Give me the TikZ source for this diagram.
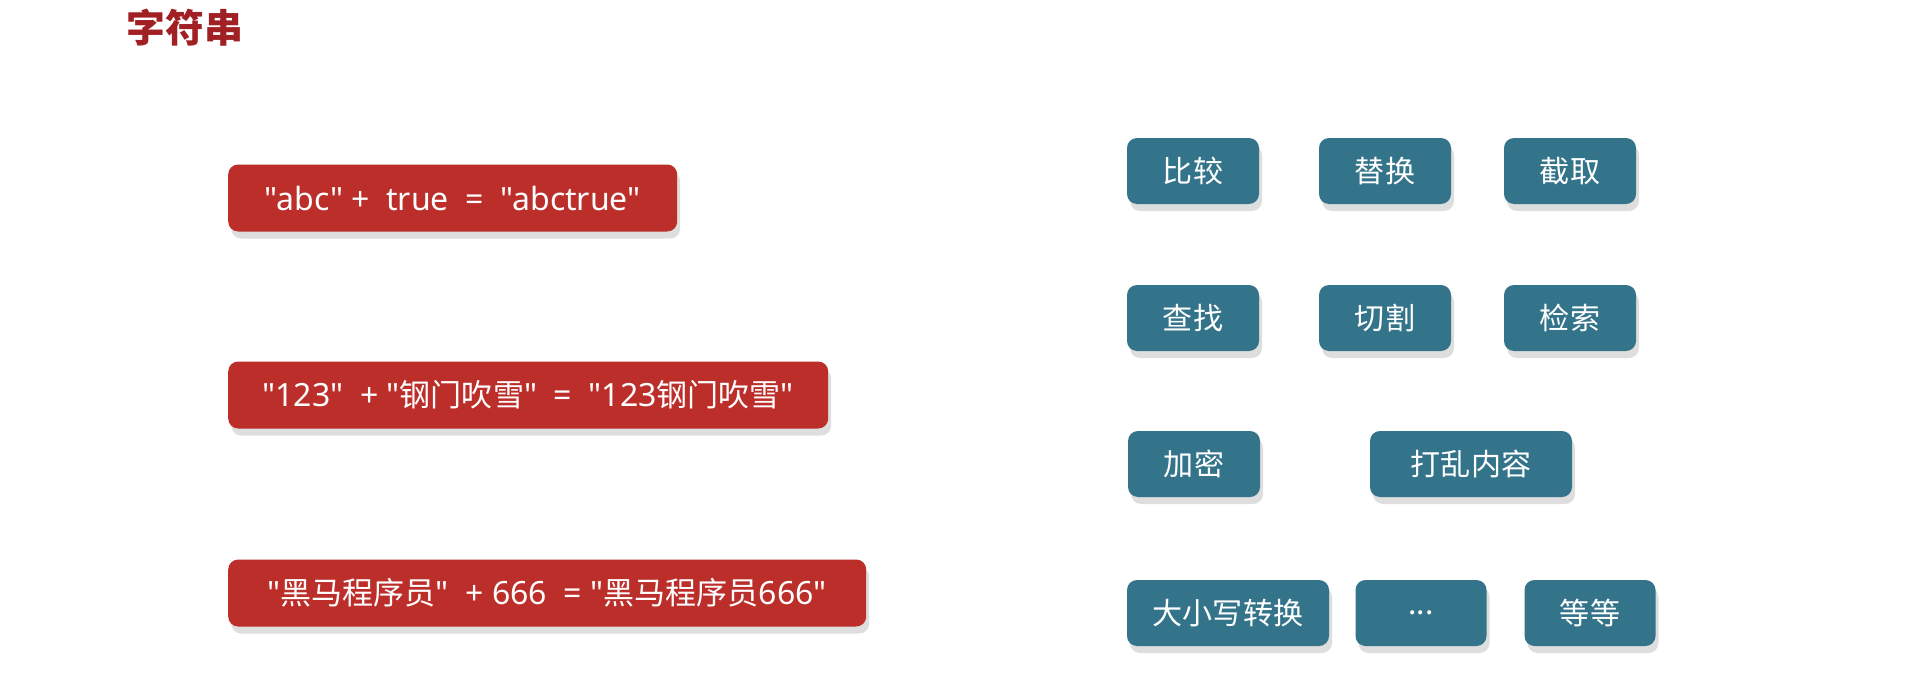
\documentclass[tikz,border=0pt]{standalone}
\usepackage{fontspec}
\setmainfont{Noto Sans}[Ligatures=TeXOff]
\newfontfamily\cjk{Noto Sans CJK SC}[Ligatures=TeXOff, Scale=0.97]
\newcommand{\zh}[1]{{\cjk #1}}
\usetikzlibrary{shadows}

\definecolor{titlered}{RGB}{160,32,36}
\definecolor{boxred}{RGB}{188,46,42}
\definecolor{boxblue}{RGB}{52,116,138}
\definecolor{shadowgray}{RGB}{222,222,222}

\begin{document}
\begin{tikzpicture}[x=1pt, y=-1pt,
    box/.style={rounded corners=10pt, text=white, inner sep=0pt,
        minimum height=67pt, font=\fontsize{32}{32}\selectfont,
        drop shadow={shadow xshift=3pt, shadow yshift=-7pt,
            fill=shadowgray, opacity=1}},
    redbox/.style={box, fill=boxred, anchor=west},
    bluebox/.style={box, fill=boxblue, minimum height=66pt, minimum width=132pt,
        font=\fontsize{31}{31}\selectfont\cjk}]
    % Page frame
    \useasboundingbox (0, 0) rectangle (1920, 685);

    % Title
    \node[font=\fontsize{40}{40}\selectfont\cjk\bfseries, text=titlered] (title) at (185, 28) {字符串};

    % Left column: concatenation examples
    \node[redbox, minimum width=449pt] (abc) at (228, 198) {"abc" +\ \ true\ \ =\ \ "abctrue"};
    \node[redbox, minimum width=600pt] (num) at (228, 395) {"123"\ \ + "\zh{钢门吹雪}"\ \ =\ \ "123\zh{钢门吹雪}"};
    \node[redbox, minimum width=638pt] (hm) at (228, 593) {"\zh{黑马程序员}"\ \ + 666\ \ =\ "\zh{黑马程序员}666"};

    % Right column: operations on strings
    % row 1
    \node[bluebox] (bj) at (1193, 171) {比较};
    \node[bluebox] (th) at (1385, 171) {替换};
    \node[bluebox] (jq) at (1570, 171) {截取};
    % row 2
    \node[bluebox] (cz) at (1193, 318) {查找};
    \node[bluebox] (qg) at (1385, 318) {切割};
    \node[bluebox] (js) at (1570, 318) {检索};
    % row 3
    \node[bluebox] (jm) at (1194, 464) {加密};
    \node[bluebox, minimum width=202pt] (dl) at (1471, 464) {打乱内容};
    % row 4
    \node[bluebox, minimum width=202pt] (dx) at (1228, 613) {大小写转换};
    \node[bluebox, minimum width=131pt] (dots) at (1421, 613) {...};
    \node[bluebox, minimum width=131pt] (dd) at (1590, 613) {等等};
\end{tikzpicture}
\end{document}
